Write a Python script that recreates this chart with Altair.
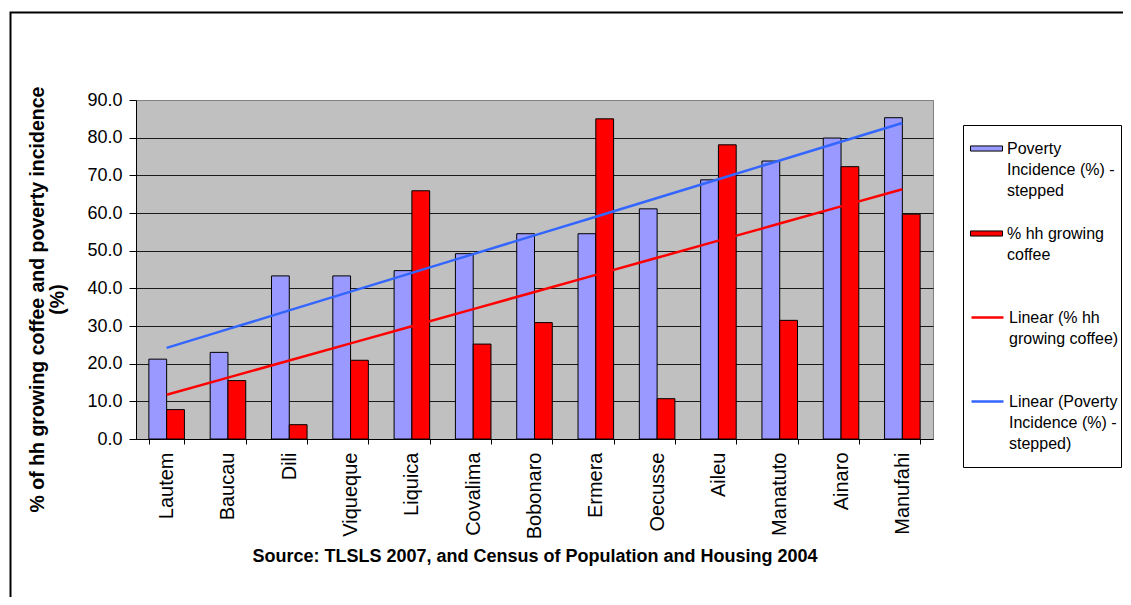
import altair as alt
import pandas as pd
import numpy as np

districts = ["Lautem", "Baucau", "Dili", "Viqueque", "Liquica", "Covalima", "Bobonaro",
             "Ermera", "Oecusse", "Aileu", "Manatuto", "Ainaro", "Manufahi"]
poverty = [21.2, 23.0, 43.3, 43.3, 44.7, 49.2, 54.5, 54.5, 61.1, 68.8, 73.8, 79.9, 85.3]
coffee = [7.8, 15.5, 3.8, 20.9, 65.9, 25.2, 30.9, 85.0, 10.7, 78.1, 31.5, 72.3, 59.7]

s_pov = "Poverty Incidence (%) - stepped"
s_cof = "% hh growing coffee"
s_lcof = "Linear (% hh growing coffee)"
s_lpov = "Linear (Poverty Incidence (%) - stepped)"
bar_series = [s_pov, s_cof]
bar_colors = ["#9999FF", "#FF0000"]
line_series = [s_lcof, s_lpov]
line_colors = ["#FF0000", "#3366FF"]
y_ticks = [0, 10, 20, 30, 40, 50, 60, 70, 80, 90]

FONT = "Liberation Sans"
LABEL_DY = -8  # shifts guide labels; compensated on axes with labelOffset

bars = pd.DataFrame(
    [{"district": d, "series": s_pov, "value": v} for d, v in zip(districts, poverty)]
    + [{"district": d, "series": s_cof, "value": v} for d, v in zip(districts, coffee)]
)

# linear trend lines (least squares on district index, as Excel does)
idx = np.arange(1, len(districts) + 1)
rows = []
for name, vals in [(s_lcof, coffee), (s_lpov, poverty)]:
    m, b = np.polyfit(idx, vals, 1)
    for d, i in zip(districts, idx):
        rows.append({"district": d, "series": name, "value": float(m * i + b)})
trend = pd.DataFrame(rows)

x_axis = alt.Axis(
    title="Source: TLSLS 2007, and Census of Population and Housing 2004",
    titleFont=FONT, titleFontSize=18, titleFontWeight="bold", titleColor="black",
    titleY=117, titleBaseline="middle",
    labelAngle=-90, labelFont=FONT, labelFontSize=20, labelColor="black",
    labelPadding=8, labelOffset=-LABEL_DY, labelOverlap=False,
    tickBand="extent", tickSize=5, tickColor="black",
    domainColor="black", grid=False,
)
y_axis = alt.Axis(
    title=["% of hh growing coffee and poverty incidence", "(%)"],
    titleFont=FONT, titleFontSize=19.5, titleFontWeight="bold", titleColor="black",
    titleX=-99, titleY=199, titleBaseline="middle", titleAlign="center", titleLineHeight=20,
    values=y_ticks, tickCount=10, format=".1f", labelOverlap=False,
    labelFont=FONT, labelFontSize=18, labelColor="black", labelPadding=7,
    labelOffset=-LABEL_DY,
    tickSize=7, tickColor="black", domainColor="black",
    grid=True, gridWidth=1,
    gridColor={"condition": {"test": "datum.value == 90", "value": "#808080"}, "value": "#1a1a1a"},
)
x_scale = alt.Scale(paddingInner=0.42, paddingOuter=0.21)
y_scale = alt.Scale(domain=[0, 90], nice=False)

common_legend = dict(
    title=None, orient="none", padding=0,
    symbolSize=1024, labelFont=FONT, labelFontSize=16, labelColor="black",
    labelOffset=4, labelLimit=200, gridAlign="all",
    labelBaseline="top", symbolOpacity=1,
)

bar_legend = alt.Legend(
    legendX=834, legendY=32, rowPadding=18,
    symbolType="M-1,-0.16H1V0.16H-1Z", symbolStrokeColor="black", symbolStrokeWidth=1,
    labelExpr=(
        "datum.value == '%s' ? ['Poverty', 'Incidence (%%) -', 'stepped'] : ['%% hh growing', 'coffee']"
    ) % s_pov,
    **common_legend,
)
line_legend = alt.Legend(
    legendX=834, legendY=200, rowPadding=16,
    symbolType="M-1,0H1", symbolStrokeWidth=2.5,
    labelExpr=(
        "datum.value == '%s' ? ['Linear (%% hh', 'growing coffee)'] : ['Linear (Poverty', 'Incidence (%%) -', 'stepped)']"
    ) % s_lcof,
    **common_legend,
)

bar_layer = alt.Chart(bars).mark_bar(stroke="black", strokeWidth=1, opacity=1).encode(
    x=alt.X("district:N", sort=districts, scale=x_scale, axis=x_axis),
    xOffset=alt.XOffset("series:N", sort=bar_series),
    y=alt.Y("value:Q", scale=y_scale, axis=y_axis),
    fill=alt.Fill("series:N", scale=alt.Scale(domain=bar_series, range=bar_colors), legend=bar_legend),
)

line_layer = alt.Chart(trend).mark_line(strokeWidth=2.5).encode(
    x=alt.X("district:N", sort=districts, scale=x_scale, axis=x_axis),
    y=alt.Y("value:Q", scale=y_scale, axis=y_axis),
    stroke=alt.Stroke("series:N", scale=alt.Scale(domain=line_series, range=line_colors), legend=line_legend),
)

frame = alt.Chart(pd.DataFrame({"k": [0]})).mark_rect(
    fillOpacity=0, stroke="black", strokeWidth=2
).encode(
    x=alt.value(-125.5), x2=alt.value(1200), y=alt.value(-87.5), y2=alt.value(700)
)

legend_box = alt.Chart(pd.DataFrame({"k": [0]})).mark_rect(
    fill="white", stroke="black", strokeWidth=1
).encode(
    x=alt.value(827.5), x2=alt.value(985.5), y=alt.value(25.5), y2=alt.value(367.5)
)

chart = alt.layer(frame, legend_box, bar_layer, line_layer).properties(
    width=797, height=339,
    autosize=alt.AutoSizeParams(type="none"),
    padding={"left": 128, "top": 92, "right": 190, "bottom": 158},
    background="white",
).configure(
    style={"guide-label": {"lineHeight": 21, "dy": LABEL_DY}}
).configure_view(
    fill="#C0C0C0", stroke="#808080", strokeWidth=1
)

chart.save("out.html", embed_options={"renderer": "svg", "actions": False})
